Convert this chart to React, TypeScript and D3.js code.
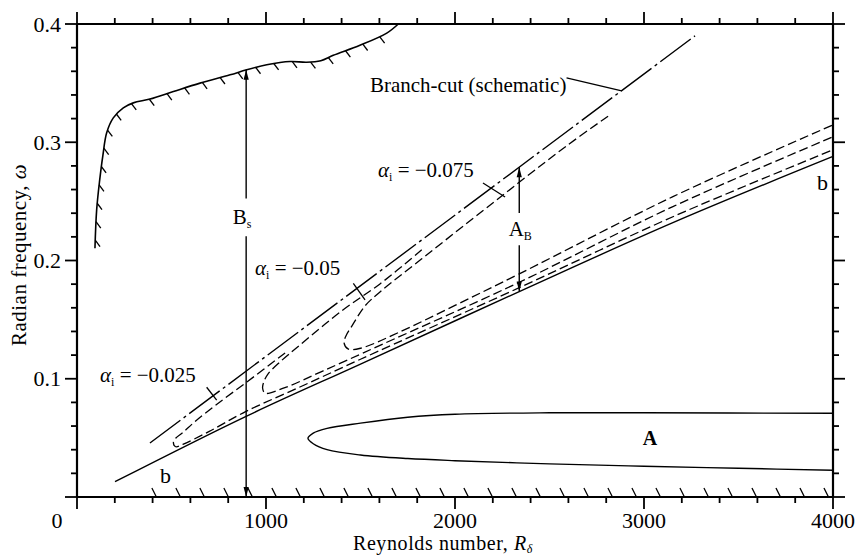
import React, { useLayoutEffect, useRef, useState } from "react";
import * as d3 from "d3";

const WIDTH = 857;
const HEIGHT = 558;

// Axis ticks
const xMajorTicks = [0, 1000, 2000, 3000, 4000];
const xTickLabels = ["0", "1000", "2000", "3000", "4000"];
const yMajorTicks = [0, 0.1, 0.2, 0.3, 0.4];
const yTickLabels = ["", "0.1", "0.2", "0.3", "0.4"];
const xMinorStep = 200;
const yMinorStep = 0.02;

// Lower neutral curve "b" (R, omega)
const curveB = [
  [201, 0.0129], [892, 0.068], [1500, 0.1124], [2340, 0.1737], [3153, 0.232], [4000, 0.288],
];

// Branch cut (schematic), straight line
const branchCut = [
  [386, 0.0457], [3270, 0.39],
];

// Contours of constant alpha_i, traced from the upper arm, round the tip, along the lower arm
const contour025 = [
  [1101, 0.1218], [899, 0.0973], [735, 0.0778], [620, 0.0632], [560, 0.0545], [522, 0.0497],
  [510, 0.0458], [522, 0.0425], [560, 0.0445], [700, 0.0555], [892, 0.0722], [1200, 0.0945],
  [1500, 0.1165], [2340, 0.177], [3153, 0.237], [4000, 0.2936],
];
const contour050 = [
  [1824, 0.209], [1603, 0.1802], [1407, 0.1582], [1180, 0.1286], [1074, 0.1142], [1011, 0.1041],
  [989, 0.0975], [982, 0.0922], [995, 0.0878], [1100, 0.0925], [1300, 0.1065], [1600, 0.128],
  [2340, 0.1816], [3153, 0.2456], [4000, 0.3046],
];
const contour075 = [
  [2810, 0.322], [2591, 0.297], [2115, 0.238], [1824, 0.2014], [1603, 0.1734], [1524, 0.1616],
  [1455, 0.1447], [1423, 0.1362], [1413, 0.1303], [1434, 0.1252], [1500, 0.1258], [1700, 0.139],
  [2000, 0.162], [2340, 0.1887], [3153, 0.254], [4000, 0.3147],
];

// Neutral curve enclosing region A
const loopA = [
  [4000, 0.0708], [3000, 0.0712], [2500, 0.0712], [2000, 0.07], [1750, 0.0675], [1500, 0.0625],
  [1323, 0.058], [1250, 0.054], [1222, 0.0496], [1250, 0.045], [1323, 0.04], [1500, 0.0355],
  [1750, 0.0325], [2000, 0.0307], [2500, 0.028], [3000, 0.026], [3500, 0.0243], [4000, 0.0226],
];

// Upper boundary B_s (hatched)
const boundaryBs = [
  [95, 0.2104], [104, 0.2428], [120, 0.268], [137, 0.289], [157, 0.308], [192, 0.3206],
  [245, 0.3291], [298, 0.3333], [386, 0.3365], [510, 0.3429], [651, 0.35], [810, 0.357],
  [898, 0.3613], [1004, 0.3655], [1127, 0.3683], [1215, 0.3677], [1290, 0.369], [1356, 0.3735],
  [1497, 0.382], [1639, 0.3923], [1700, 0.4],
];

// Hatched lower boundary along the R axis
const axisHatchStart = 420;
const axisHatchEnd = 3990;
const axisHatchStep = 127;

// Vertical arrows
const arrowBsR = 895;
const arrowBsTop = 0.3613;
const arrowABR = 2340;
const arrowABBottom = 0.1737;
const arrowABTop = 0.2788;

const FONT = "'Liberation Serif', 'Times New Roman', serif";

export default function App() {
  const x = d3.scaleLinear().domain([0, 4000]).range([77, 833]);
  const y = d3.scaleLinear().domain([0, 0.4]).range([497, 24]);

  const smooth = d3
    .line<number[]>()
    .x((d) => x(d[0]))
    .y((d) => y(d[1]))
    .curve(d3.curveCatmullRom.alpha(0.5));
  const straight = d3
    .line<number[]>()
    .x((d) => x(d[0]))
    .y((d) => y(d[1]));

  const bsRef = useRef<SVGPathElement>(null);
  const [bsHatch, setBsHatch] = useState<number[][]>([]);

  useLayoutEffect(() => {
    const p = bsRef.current;
    if (!p) return;
    const L = p.getTotalLength();
    const pts: number[][] = [];
    for (let s = 8; s < L - 6; s += 18.5) {
      const q = p.getPointAtLength(s);
      pts.push([q.x, q.y]);
    }
    setBsHatch(pts);
  }, []);

  const xMinor = d3.range(0, 4001, xMinorStep).filter((v) => v % 1000 !== 0);
  const yMinor = d3
    .range(0, 0.4001, yMinorStep)
    .filter((v) => Math.abs(v * 10 - Math.round(v * 10)) > 1e-6);

  const x0 = x(0), x1 = x(4000), y0 = y(0), y1 = y(0.4);
  const major = 12;
  const minor = 6;
  const axisW = 2.2;
  const lineW = 1.4;

  const arrowHead = (px: number, py: number, dir: number, key: string) => (
    <polygon
      key={key}
      points={`${px},${py} ${px - 2.6},${py + dir * 10} ${px + 2.6},${py + dir * 10}`}
      fill="#000"
    />
  );

  const hatchAxis = d3.range(axisHatchStart, axisHatchEnd, axisHatchStep);

  const alphaLabel = (key: string, r: number, w: number, val: string) => (
    <text key={key} x={x(r)} y={y(w)} fontFamily={FONT} fontSize={21} xmlSpace="preserve">
      <tspan fontStyle="italic">α</tspan>
      <tspan fontSize={12} dy={4}>i</tspan>
      <tspan dy={-4}>{" = −" + val}</tspan>
    </text>
  );

  return (
    <svg
      width={WIDTH}
      height={HEIGHT}
      style={{ position: "absolute", left: 0, top: 0, background: "#fff" }}
    >
      <rect x={0} y={0} width={WIDTH} height={HEIGHT} fill="#fff" />

      {/* frame */}
      <g stroke="#000" strokeWidth={axisW} fill="none">
        <line x1={x0} y1={y0} x2={x1} y2={y0} />
        <line x1={x0} y1={y1} x2={x1} y2={y1} />
        <line x1={x0} y1={y0} x2={x0} y2={y1} />
        <line x1={x1} y1={y0} x2={x1} y2={y1} />
      </g>

      {/* ticks, pointing outward on all four sides */}
      <g stroke="#000" strokeWidth={1.8}>
        {xMajorTicks.map((v) => (
          <g key={"xm" + v}>
            <line x1={x(v)} x2={x(v)} y1={y0} y2={y0 + major} />
            <line x1={x(v)} x2={x(v)} y1={y1} y2={y1 - major} />
          </g>
        ))}
        {xMinor.map((v) => (
          <g key={"xn" + v}>
            <line x1={x(v)} x2={x(v)} y1={y0} y2={y0 + minor} />
            <line x1={x(v)} x2={x(v)} y1={y1} y2={y1 - minor} />
          </g>
        ))}
        {yMajorTicks.map((v) => (
          <g key={"ym" + v}>
            <line x1={x0} x2={x0 - major} y1={y(v)} y2={y(v)} />
            <line x1={x1} x2={x1 + major} y1={y(v)} y2={y(v)} />
          </g>
        ))}
        {yMinor.map((v) => (
          <g key={"yn" + v}>
            <line x1={x0} x2={x0 - minor} y1={y(v)} y2={y(v)} />
            <line x1={x1} x2={x1 + minor} y1={y(v)} y2={y(v)} />
          </g>
        ))}
      </g>

      {/* tick labels */}
      <g fontFamily={FONT} fontSize={22} fill="#000">
        {xMajorTicks.map((v, i) => (
          <text
            key={"xl" + v}
            x={v === 0 ? x(v) - 20 : x(v)}
            y={528}
            textAnchor="middle"
          >
            {xTickLabels[i]}
          </text>
        ))}
        {yMajorTicks.map((v, i) =>
          yTickLabels[i] ? (
            <text key={"yl" + v} x={x0 - 16} y={y(v) + 7.5} textAnchor="end">
              {yTickLabels[i]}
            </text>
          ) : null
        )}
      </g>

      {/* axis titles */}
      <text x={443} y={550} fontFamily={FONT} fontSize={20} textAnchor="middle" letterSpacing={0.6}>
        Reynolds number,{" "}
        <tspan fontStyle="italic">R</tspan>
        <tspan fontSize={12} dy={3} fontStyle="italic">δ</tspan>
      </text>
      <text
        transform="translate(26,255) rotate(-90)"
        fontFamily={FONT}
        fontSize={21}
        textAnchor="middle"
        letterSpacing={0.5}
      >
        Radian frequency, <tspan fontStyle="italic">ω</tspan>
      </text>

      {/* hatched lower boundary on the R axis */}
      <g stroke="#000" strokeWidth={1.3}>
        {hatchAxis.map((r) => (
          <line key={"ha" + r} x1={x(r)} y1={y0} x2={x(r) - 4.5} y2={y0 - 9} />
        ))}
      </g>

      {/* upper boundary B_s with hatching */}
      <path ref={bsRef} d={smooth(boundaryBs) || ""} fill="none" stroke="#000" strokeWidth={1.6} />
      <g stroke="#000" strokeWidth={1.3}>
        {bsHatch.map((p, i) => (
          <line key={"hb" + i} x1={p[0]} y1={p[1]} x2={p[0] + 4.8} y2={p[1] + 6.4} />
        ))}
      </g>

      {/* neutral curves */}
      <path d={smooth(curveB) || ""} fill="none" stroke="#000" strokeWidth={lineW} />
      <path d={smooth(loopA) || ""} fill="none" stroke="#000" strokeWidth={lineW} />

      {/* branch cut */}
      <path
        d={straight(branchCut) || ""}
        fill="none"
        stroke="#000"
        strokeWidth={lineW}
        strokeDasharray="38,4,3,4"
      />

      {/* alpha_i contours */}
      {[contour025, contour050, contour075].map((c, i) => (
        <path
          key={"c" + i}
          d={smooth(c) || ""}
          fill="none"
          stroke="#000"
          strokeWidth={1.3}
          strokeDasharray="9,4"
        />
      ))}

      {/* vertical arrow B_s */}
      <g stroke="#000" strokeWidth={1.4}>
        <line x1={x(arrowBsR)} x2={x(arrowBsR)} y1={y(0)} y2={y(0.2205)} />
        <line x1={x(arrowBsR)} x2={x(arrowBsR)} y1={y(0.2525)} y2={y(arrowBsTop)} />
      </g>
      {arrowHead(x(arrowBsR), y(arrowBsTop), 1, "abs1")}
      {arrowHead(x(arrowBsR), y(0), -1, "abs2")}
      <text x={x(arrowBsR) - 4} y={y(0.2305)} fontFamily={FONT} fontSize={21} textAnchor="middle">
        B<tspan fontSize={12} dy={4}>s</tspan>
      </text>

      {/* vertical arrow A_B */}
      <g stroke="#000" strokeWidth={1.4}>
        <line x1={x(arrowABR)} x2={x(arrowABR)} y1={y(arrowABBottom)} y2={y(0.213)} />
        <line x1={x(arrowABR)} x2={x(arrowABR)} y1={y(0.2402)} y2={y(arrowABTop)} />
      </g>
      {arrowHead(x(arrowABR), y(arrowABTop), 1, "aab1")}
      {arrowHead(x(arrowABR), y(arrowABBottom), -1, "aab2")}
      <text x={x(arrowABR) + 1} y={y(0.2207)} fontFamily={FONT} fontSize={21} textAnchor="middle">
        A<tspan fontSize={12} dy={4}>B</tspan>
      </text>

      {/* labels */}
      <text x={x(1550)} y={y(0.3425)} fontFamily={FONT} fontSize={21}>
        Branch-cut (schematic)
      </text>
      <line
        x1={x(2590)}
        y1={y(0.3545)}
        x2={x(2882)}
        y2={y(0.3435)}
        stroke="#000"
        strokeWidth={1.3}
      />

      {alphaLabel("l1", 122, 0.0973, "0.025")}
      {alphaLabel("l2", 942, 0.1877, "0.05")}
      {alphaLabel("l3", 1593, 0.2706, "0.075")}
      <g stroke="#000" strokeWidth={1.3}>
        <line x1={x(686)} y1={y(0.0928)} x2={x(739)} y2={y(0.082)} />
        <line x1={x(1462)} y1={y(0.1807)} x2={x(1524)} y2={y(0.1666)} />
        <line x1={x(2148)} y1={y(0.2655)} x2={x(2265)} y2={y(0.2537)} />
      </g>

      <text x={x(3032)} y={y(0.044)} fontFamily={FONT} fontSize={20} textAnchor="middle" fontWeight="bold">
        A
      </text>
      <text x={x(439)} y={y(0.0118)} fontFamily={FONT} fontSize={22}>
        b
      </text>
      <text x={x(3915)} y={y(0.2596)} fontFamily={FONT} fontSize={22}>
        b
      </text>
    </svg>
  );
}
